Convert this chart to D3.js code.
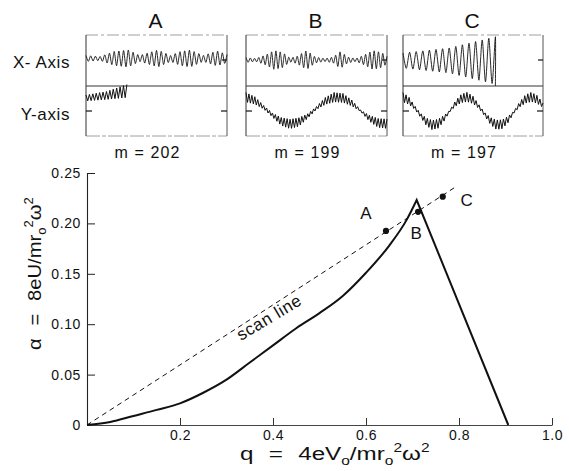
<!DOCTYPE html>
<html><head><meta charset="utf-8">
<script src="https://cdn.jsdelivr.net/npm/d3@7"></script>
<style>
html,body{margin:0;padding:0;background:#fff;}
svg{display:block;}
</style></head><body>
<svg id="c" width="569" height="471"></svg>
<script>
// ================= DATA =================
// stability diagram (main chart)
const qTicks = [0.2, 0.4, 0.6, 0.8, 1.0];
const alphaTicks = [0, 0.05, 0.10, 0.15, 0.20, 0.25];
const boundaryQ = [0, 0.05, 0.10, 0.15, 0.20, 0.25, 0.30, 0.35, 0.40, 0.45, 0.50, 0.55, 0.60, 0.65, 0.688, 0.709, 0.906];
const boundaryA = [0, 0.003, 0.009, 0.015, 0.0215, 0.032, 0.045, 0.062, 0.079, 0.096, 0.111, 0.128, 0.151, 0.178, 0.204, 0.2232, 0];
const scanQ = [0, 0.792];
const scanA = [0, 0.236];
const pointNames = ["A", "B", "C"];
const pointQ = [0.643, 0.712, 0.765];
const pointA = [0.1925, 0.2115, 0.2265];

// trajectory panels (top)
const panelNames = ["A", "B", "C"];
const massLabels = ["m = 202", "m = 199", "m = 197"];
// X-axis traces: envelope knots (fraction of panel width) and amplitudes (row half-height units)
const xEnvT = [
  [0, .10, .20, .30, .38, .45, .51, .60, .67, .74, .83, .93, 1],
  [0, .07, .14, .20, .26, .31, .36, .43, .49, .56, .62, .67, .72, .78, .84, .90, .96, 1],
  [0, .33, .66]
];
const xEnvAmp = [
  [.12, .08, .28, .34, .12, .24, .34, .12, .28, .34, .12, .30, .16],
  [.10, .06, .20, .38, .30, .08, .14, .38, .12, .06, .12, .34, .12, .06, .20, .38, .30, .15],
  [.30, .50, .95]
];
const xCenter = [0.06, 0.0, -0.02];
const xCycles = [30, 33, 14];
const xEscape = [null, null, -1.04];
// Y-axis traces: slow (secular) motion samples, micromotion half-width samples
const ySpan = [0.29, 1, 1];
const yMid = [
  [0.52, 0.62, 0.80],
  [0.55, 0.42, 0.15, -0.16, -0.42, -0.52, -0.44, -0.20, 0.12, 0.40, 0.55, 0.52, 0.32, 0.01, -0.29, -0.48, -0.51],
  [0.55, 0.41, 0.14, -0.17, -0.43, -0.56, -0.51, -0.30, -0.01, 0.30, 0.50, 0.56, 0.44, 0.18, -0.13, -0.40, -0.55, -0.53, -0.34, -0.05, 0.26, 0.48, 0.56, 0.46, 0.23]
];
const yEnv = [
  [0.12, 0.16, 0.26],
  [0.19, 0.15, 0.07, 0.08, 0.16, 0.19, 0.17, 0.09, 0.06, 0.14, 0.19, 0.18, 0.12, 0.03, 0.12, 0.18, 0.19],
  [0.19, 0.15, 0.07, 0.08, 0.15, 0.19, 0.18, 0.12, 0.03, 0.11, 0.17, 0.19, 0.15, 0.08, 0.07, 0.14, 0.19, 0.18, 0.13, 0.04, 0.10, 0.17, 0.19, 0.16, 0.09]
];
const yCycles = [12, 48, 46];

// ================= DRAWING =================
const FONT = '"Liberation Sans", Arial, Helvetica, sans-serif';
const svg = d3.select("#c").attr("font-family", FONT);
const INK = "#111";

// ---------- top panels ----------
const panelLeft = [86, 246, 403];
const panelW = [141, 141, 140];
const pTop = 35, pMid = 86, pBot = 136;

svg.append("text").attr("x", 70).attr("y", 68).attr("text-anchor", "end")
  .attr("font-size", 17).attr("letter-spacing", 0.6).attr("fill", INK).text("X- Axis");
svg.append("text").attr("x", 70).attr("y", 120).attr("text-anchor", "end")
  .attr("font-size", 17).attr("letter-spacing", 0.6).attr("fill", INK).text("Y-axis");

panelNames.forEach((name, i) => {
  const x0 = panelLeft[i], x1 = x0 + panelW[i];
  const g = svg.append("g");
  const xs = d3.scaleLinear().domain([0, 1]).range([x0, x1]);
  const yU = d3.scaleLinear().domain([-1, 1]).range([85, 35]);
  const yL = d3.scaleLinear().domain([-1, 1]).range([136, 86]);

  // frame
  g.append("line").attr("x1", x0).attr("x2", x1).attr("y1", pTop).attr("y2", pTop)
    .attr("stroke", "#888").attr("stroke-width", 0.8).attr("stroke-dasharray", "12,3,3,3");
  g.append("line").attr("x1", x0).attr("x2", x1).attr("y1", pBot).attr("y2", pBot)
    .attr("stroke", "#888").attr("stroke-width", 0.8).attr("stroke-dasharray", "14,2,4,2");
  g.append("line").attr("x1", x0).attr("x2", x1).attr("y1", pMid).attr("y2", pMid)
    .attr("stroke", "#333").attr("stroke-width", 1);
  g.append("line").attr("x1", x0).attr("x2", x0).attr("y1", pTop).attr("y2", pBot)
    .attr("stroke", "#333").attr("stroke-width", 1);
  g.append("line").attr("x1", x1).attr("x2", x1).attr("y1", pTop).attr("y2", pBot)
    .attr("stroke", "#555").attr("stroke-width", 1);
  // zero ticks
  [[x0, x0 + 6, yL(0)], [x1 - 6, x1, yL(0)], [x1 - 5, x1, yU(0)]].forEach(t => {
    g.append("line").attr("x1", t[0]).attr("x2", t[1]).attr("y1", t[2]).attr("y2", t[2])
      .attr("stroke", INK).attr("stroke-width", 1.2);
  });

  // X trace
  const env = d3.scaleLinear().domain(xEnvT[i]).range(xEnvAmp[i]);
  const spanX = xEnvT[i][xEnvT[i].length - 1];
  const nX = xCycles[i] * 2;
  const ptsX = d3.range(nX + 1).map(k => {
    const t = spanX * k / nX;
    return [t, xCenter[i] + (k % 2 ? -1 : 1) * env(t)];
  });
  if (xEscape[i] !== null) ptsX.push([spanX, xEscape[i]]);
  g.append("path").datum(ptsX)
    .attr("d", d3.line().x(d => xs(d[0])).y(d => yU(d[1])).curve(d3.curveCardinal.tension(0.2)))
    .attr("fill", "none").attr("stroke", INK).attr("stroke-width", 0.9);

  // Y trace
  const n = yMid[i].length;
  const knots = yMid[i].map((_, k) => ySpan[i] * k / (n - 1));
  const mid = d3.scaleLinear().domain(knots).range(yMid[i]);
  const yenv = d3.scaleLinear().domain(knots).range(yEnv[i]);
  const nY = yCycles[i] * 2;
  const ptsY = d3.range(nY + 1).map(k => {
    const t = ySpan[i] * k / nY;
    return [t, mid(t) + (k % 2 ? -1 : 1) * yenv(t)];
  });
  g.append("path").datum(ptsY)
    .attr("d", d3.line().x(d => xs(d[0])).y(d => yL(d[1])).curve(d3.curveLinear))
    .attr("fill", "none").attr("stroke", INK).attr("stroke-width", 1);

  // titles
  const cx = (x0 + x1) / 2;
  svg.append("text").attr("x", cx - 1).attr("y", 28).attr("text-anchor", "middle")
    .attr("font-size", 21).attr("fill", INK).text(name);
  svg.append("text").attr("x", cx - 9).attr("y", 158).attr("text-anchor", "middle")
    .attr("font-size", 16).attr("letter-spacing", 1.1).attr("fill", INK).text(massLabels[i]);
});

// ---------- main chart ----------
const x = d3.scaleLinear().domain([0, 1]).range([87, 552]);
const y = d3.scaleLinear().domain([0, 0.25]).range([425, 173]);

const yAxis = d3.axisLeft(y).tickValues(alphaTicks).tickSizeInner(-8).tickSizeOuter(0).tickPadding(6)
  .tickFormat(d => d === 0 ? "0" : d3.format(".2f")(d));
const gy = svg.append("g").attr("transform", `translate(${x(0)},0)`).call(yAxis);
gy.attr("font-size", 14).attr("font-family", FONT);
gy.selectAll("text").attr("fill", INK).attr("letter-spacing", 0.6);
gy.select(".domain").attr("stroke", "#222").attr("stroke-width", 1.1);
gy.selectAll(".tick line").attr("stroke", "#222");

const xAxis = d3.axisBottom(x).tickValues(qTicks).tickSizeInner(-7).tickSizeOuter(0).tickPadding(5)
  .tickFormat(d3.format(".1f"));
const gx = svg.append("g").attr("transform", `translate(0,${y(0)})`).call(xAxis);
gx.attr("font-size", 14).attr("font-family", FONT);
gx.selectAll("text").attr("fill", INK).attr("letter-spacing", 0.6);
gx.select(".domain").attr("stroke", "#444").attr("stroke-width", 1.1);
gx.selectAll(".tick line").attr("stroke", "#333");

// scan line
const scanPts = scanQ.map((q, k) => [q, scanA[k]]);
svg.append("path").datum(scanPts)
  .attr("d", d3.line().x(d => x(d[0])).y(d => y(d[1])))
  .attr("fill", "none").attr("stroke", INK).attr("stroke-width", 1).attr("stroke-dasharray", "5,4");

// stability boundary
const apex = boundaryA.indexOf(d3.max(boundaryA));
const leftPts = boundaryQ.slice(0, apex + 1).map((q, k) => [q, boundaryA[k]]);
const rightPts = boundaryQ.slice(apex + 1).map((q, k) => [q, boundaryA[apex + 1 + k]]);
let dPath = d3.line().x(d => x(d[0])).y(d => y(d[1])).curve(d3.curveMonotoneX)(leftPts);
rightPts.forEach(p => { dPath += `L${x(p[0])},${y(p[1])}`; });
svg.append("path").attr("d", dPath).attr("fill", "none").attr("stroke", INK)
  .attr("stroke-width", 2).attr("stroke-linejoin", "miter").attr("stroke-miterlimit", 10);

// scan points and labels
const labelOffset = [[-20, -12], [-2, 27], [24, 9]];
pointNames.forEach((nm, k) => {
  svg.append("circle").attr("cx", x(pointQ[k])).attr("cy", y(pointA[k])).attr("r", 3.1).attr("fill", INK);
  svg.append("text").attr("x", x(pointQ[k]) + labelOffset[k][0]).attr("y", y(pointA[k]) + labelOffset[k][1])
    .attr("text-anchor", "middle").attr("font-size", 17).attr("fill", INK).text(nm);
});

// "scan line" text
svg.append("text").attr("transform", "translate(241,341) rotate(-31)")
  .attr("font-size", 17).attr("letter-spacing", 0.6).attr("fill", INK).text("scan line");

// rich-text axis labels
function richText(g, parts, size) {
  const t = g.append("text").attr("font-size", size).attr("fill", INK);
  let cur = 0;
  parts.forEach(p => {
    const target = p.sub ? size * 0.28 : p.sup ? -size * 0.42 : 0;
    const ts = t.append("tspan").attr("dy", target - cur).text(p.t);
    if (p.sub || p.sup) ts.attr("font-size", size * 0.64);
    if (p.dx) ts.attr("dx", p.dx);
    cur = target;
  });
  return t;
}

// x label
const gxl = svg.append("g");
const xl = richText(gxl, [
  {t: "q"}, {t: "=", dx: 12}, {t: "4eV", dx: 12}, {t: "o", sub: true}, {t: "/mr"},
  {t: "o", sub: true}, {t: "2", sup: true}, {t: "ω"}, {t: "2", sup: true}
], 19);
{
  const bb = xl.node().getBBox();
  const s = 190 / bb.width;
  gxl.attr("transform", `translate(240,460) scale(${s},1) translate(${-bb.x},0)`);
}

// y label
const gyl = svg.append("g");
const yl = richText(gyl, [
  {t: "α"}, {t: "=", dx: 12}, {t: "8eU/mr", dx: 12}, {t: "o", sub: true},
  {t: "2", sup: true}, {t: "ω"}, {t: "2", sup: true}
], 19);
{
  const bb = yl.node().getBBox();
  const s = 153 / bb.width;
  gyl.attr("transform", `translate(41,350) rotate(-90) scale(${s},1) translate(${-bb.x},0)`);
}
</script>
</body></html>
